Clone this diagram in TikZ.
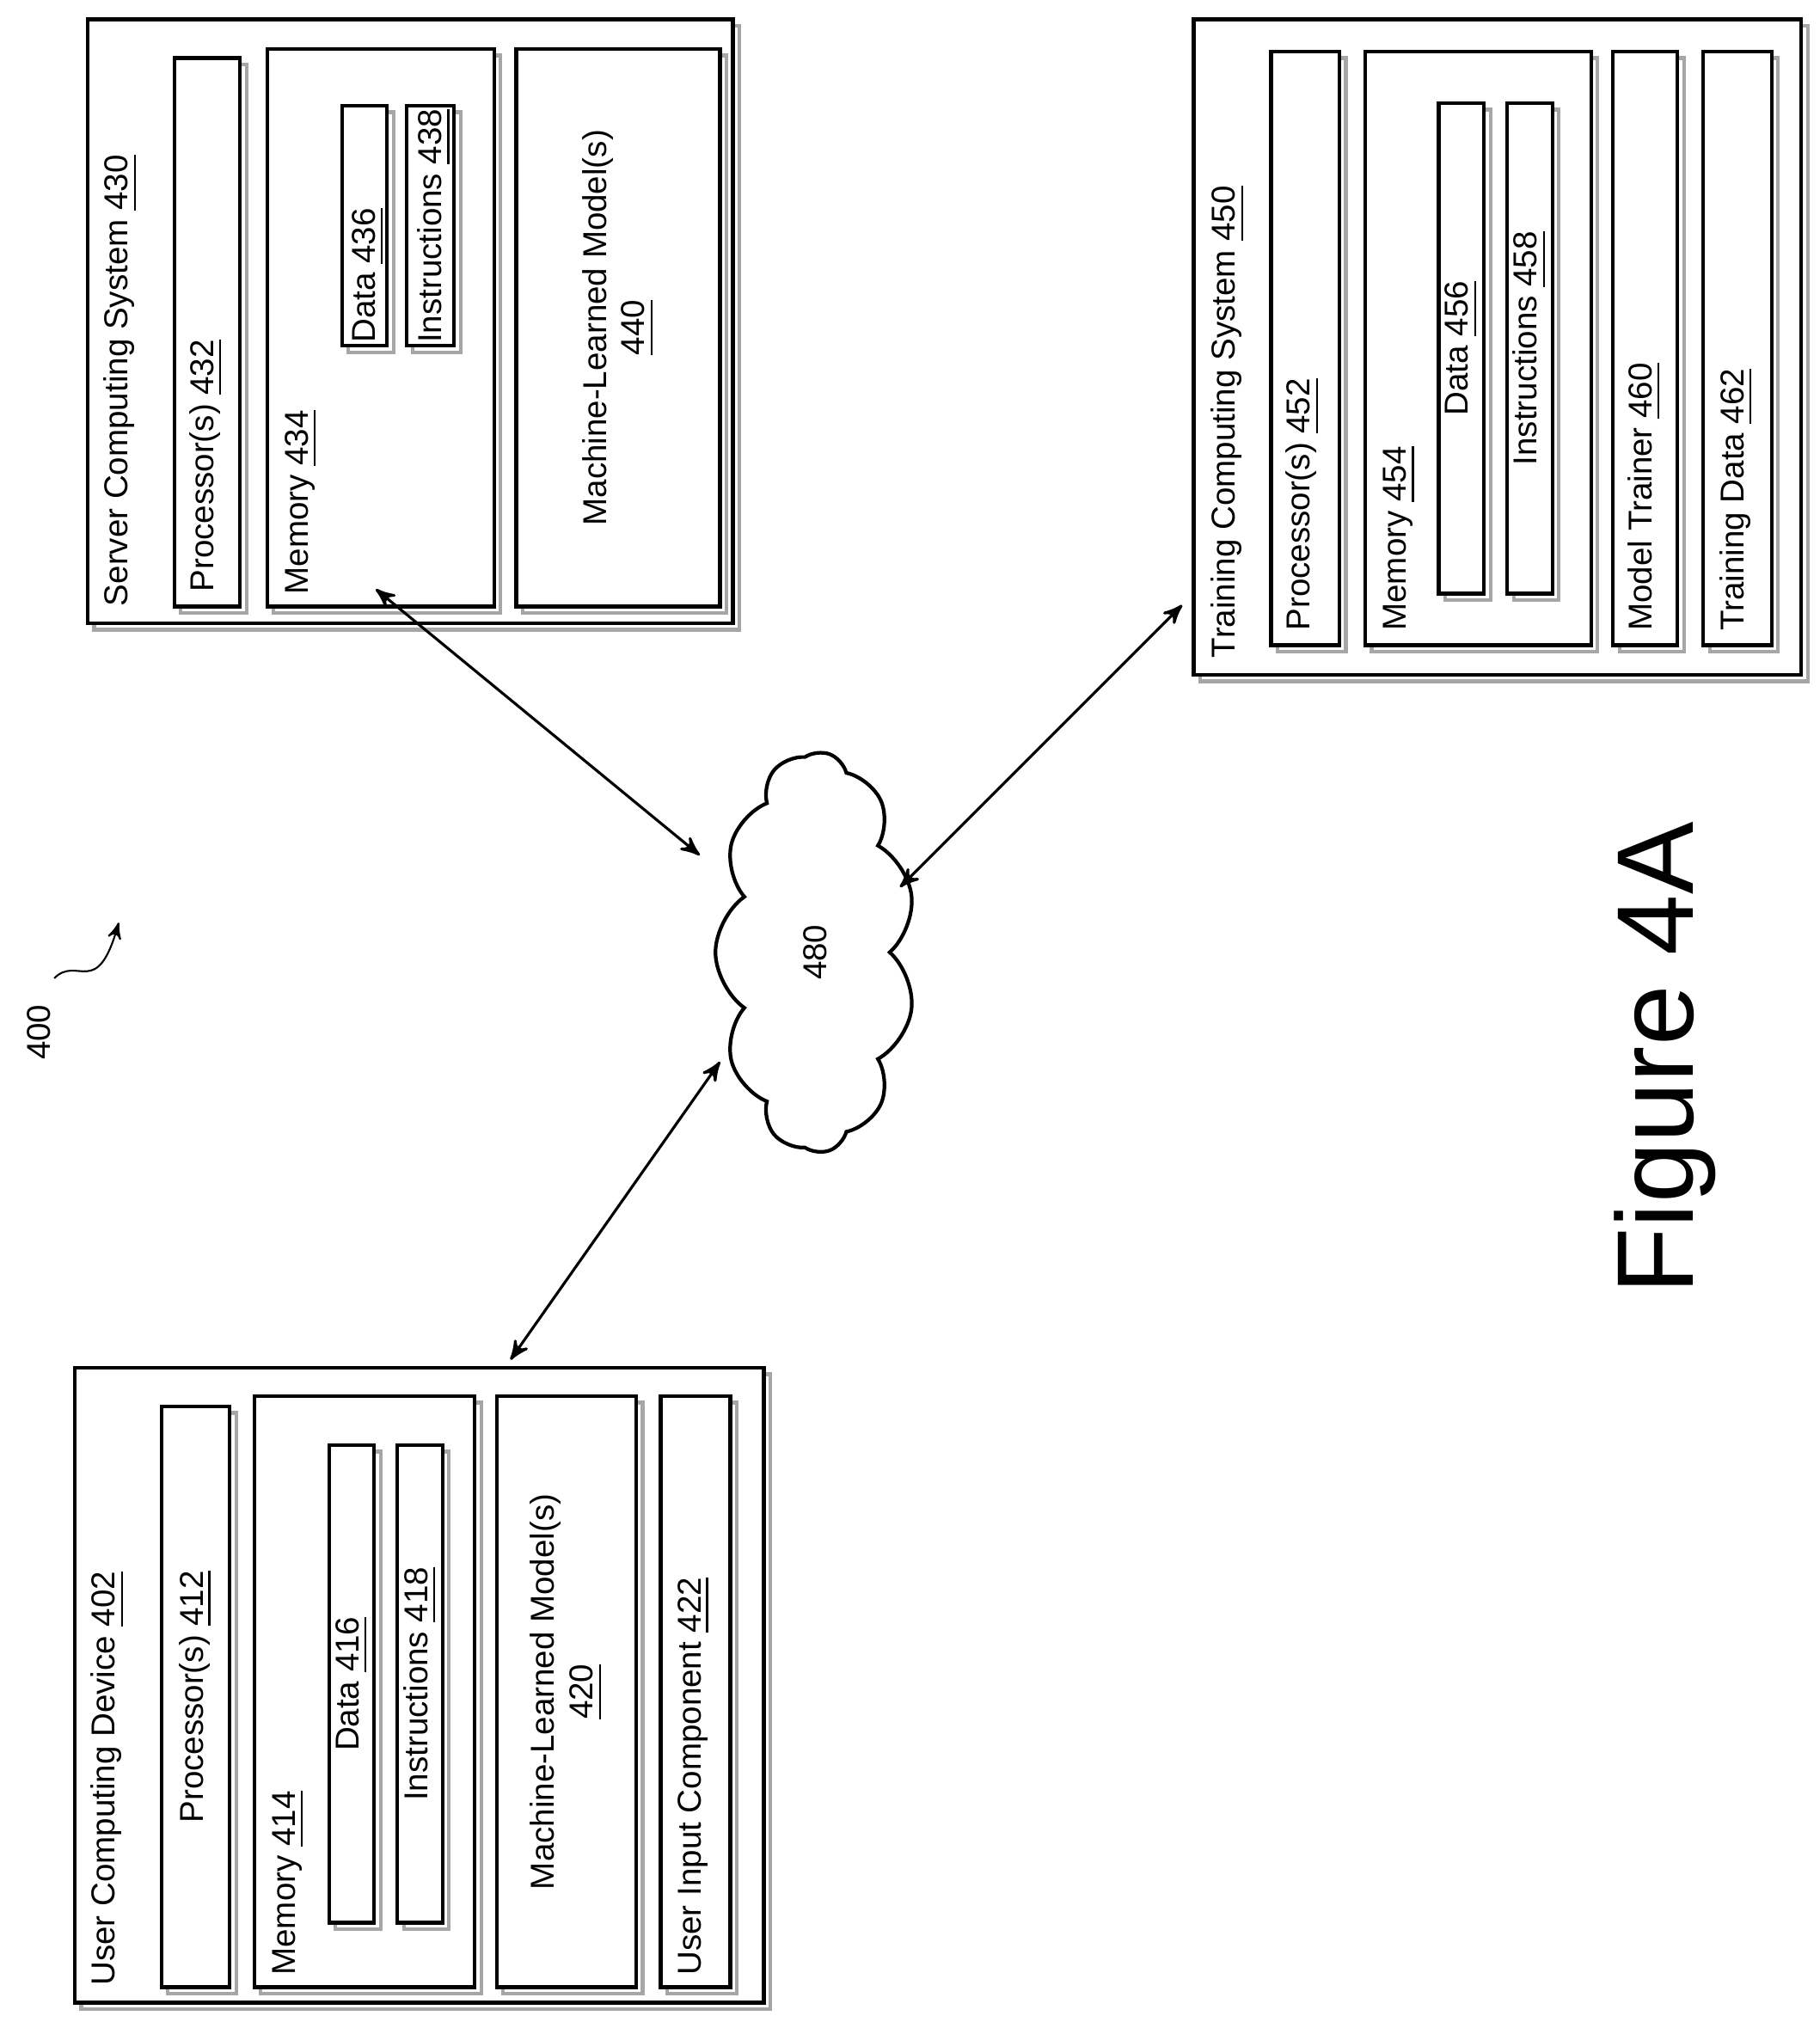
\documentclass[tikz,border=0pt]{standalone}
\usepackage{fontspec}
\setmainfont{Liberation Sans}
\usetikzlibrary{arrows,positioning,shapes,shadows,fit,calc}
\tikzset{
    %Define standard arrow tip
    >=stealth',
    %Define style for boxes
    blk/.style={
           rectangle,
           draw=black, thick,
           fill=white,
           inner sep=0pt,
           copy shadow={shadow xshift=0.5mm, shadow yshift=-0.5mm, draw=gray!70, thick}},
    lbl/.style={
           rotate=90,
           anchor=west,
           inner sep=0pt,
           font=\fontsize{7.3}{8.5}\selectfont},
    mid/.style={
           rotate=90,
           inner sep=0pt,
           align=center,
           font=\fontsize{7.3}{8.5}\selectfont},
    % Define arrow style
    arr/.style={
           <->,
           semithick,
           shorten <=1pt,
           shorten >=1pt,}
}
\newcommand{\blk}[5]{\node[blk, fit={(#2,#3) (#4,#5)}] (#1) {};}

\begin{document}
\begin{tikzpicture}[x=0.01cm,y=-0.01cm]
  \useasboundingbox (0,0) rectangle (1410,1567);

  % user computing device
  \blk{ucd}{58}{1060}{592}{1552}
  \node[lbl] at ($(ucd.south west)+(27,-14)$) {User Computing Device \underline{402}};
  \blk{uproc}{125}{1090}{178}{1540}
  \node[mid] at (uproc.center) {Processor(s) \underline{412}};
  \blk{umem}{197}{1082}{368}{1540}
  \node[lbl] at ($(umem.south west)+(28,-10)$) {Memory \underline{414}};
  \blk{udata}{255}{1120}{290}{1490}
  \node[mid] at (udata.center) {Data \underline{416}};
  \blk{uinst}{308}{1120}{343}{1490}
  \node[mid] at (uinst.center) {Instructions \underline{418}};
  \blk{umod}{385}{1082}{493}{1540}
  \node[mid] at (umod.center) {Machine-Learned Model(s)\\\underline{420}};
  \blk{uinp}{512}{1082}{566}{1540}
  \node[lbl] at ($(uinp.south west)+(27,-10)$) {User Input Component \underline{422}};

  % server computing system
  \blk{scs}{68}{15}{568}{483}
  \node[lbl] at ($(scs.south west)+(27,-14)$) {Server Computing System \underline{430}};
  \blk{sproc}{135}{45}{186}{470}
  \node[lbl] at ($(sproc.south west)+(26,-12)$) {Processor(s) \underline{432}};
  \blk{smem}{207}{38}{383}{470}
  \node[lbl] at ($(smem.south west)+(28,-10)$) {Memory \underline{434}};
  \blk{sdata}{265}{82}{300}{268}
  \node[lbl] at ($(sdata.south west)+(22,-3)$) {Data \underline{436}};
  \blk{sinst}{315}{82}{352}{268}
  \node[lbl] at ($(sinst.south west)+(23,-3)$) {Instructions \underline{438}};
  \blk{smod}{400}{38}{558}{470}
  \node[mid] at (smod.center) {Machine-Learned Model(s)\\\underline{440}};

  % training computing system
  \blk{tcs}{925}{15}{1396}{523}
  \node[lbl] at ($(tcs.south west)+(28,-14)$) {Training Computing System \underline{450}};
  \blk{tproc}{985}{40}{1038}{500}
  \node[lbl] at ($(tproc.south west)+(26,-12)$) {Processor(s) \underline{452}};
  \blk{tmem}{1058}{40}{1233}{500}
  \node[lbl] at ($(tmem.south west)+(28,-12)$) {Memory \underline{454}};
  \blk{tdata}{1115}{80}{1150}{460}
  \node[mid] at (tdata.center) {Data \underline{456}};
  \blk{tinst}{1168}{80}{1203}{460}
  \node[mid] at (tinst.center) {Instructions \underline{458}};
  \blk{ttrain}{1250}{40}{1300}{500}
  \node[lbl] at ($(ttrain.south west)+(26,-12)$) {Model Trainer \underline{460}};
  \blk{tdat}{1320}{40}{1373}{500}
  \node[lbl] at ($(tdat.south west)+(27,-12)$) {Training Data \underline{462}};

  % network
  \node[cloud, draw, thick, cloud puffs=11, cloud puff arc=110, aspect=2,
        minimum width=3.1cm, minimum height=1.55cm, rotate=90,
        font=\fontsize{7.3}{8.5}\selectfont] (net) at (632,738) {480};
  \coordinate (ns) at ($(net.center)+(-87,-73)$);
  \coordinate (nt) at ($(net.center)+(63,-48)$);
  \coordinate (nu) at ($(net.center)+(-72,82)$);

  \draw[arr] (scs.south west) ++(222,-30) coordinate (sa) (sa) -- (ns);
  \draw[arr] (tcs.south west) ++(-5,-58) coordinate (ta) (ta) -- (nt);
  \draw[arr] (ucd.north west) ++(337,-2) coordinate (ua) (ua) -- (nu);

  \node[rotate=90, font=\fontsize{7.3}{8.5}\selectfont] (sys) at (30,800) {400};
  \coordinate (systip) at (92,715);
  \draw[->] (sys.east) ++(12,-8) .. controls (60,740) and (75,775) .. (systip);

  \node[rotate=90, font=\fontsize{24}{28}\selectfont] (fig) at (1290,820) {Figure 4A};
\end{tikzpicture}
\end{document}
